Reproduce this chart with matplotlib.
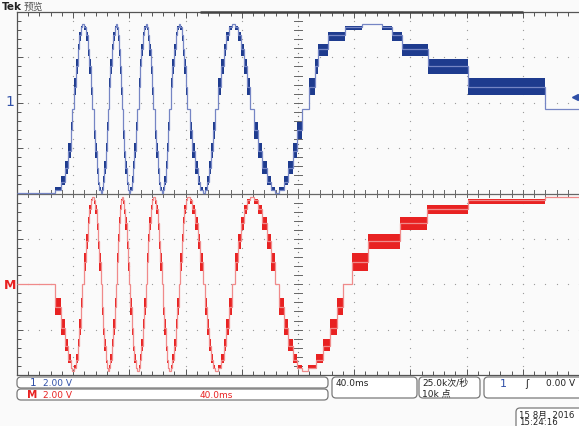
import numpy as np
import matplotlib.pyplot as plt
from matplotlib.patches import FancyBboxPatch

plt.rcParams['font.family'] = ['DejaVu Sans', 'Noto Sans CJK SC']

# 时基 40 ms/div, 10 div -> 0..400 ms
# moments (ms) where the encoder moves on to the next 15 degree step
step_t = [
    27.0, 31.3, 34.2, 36.3, 38.1, 39.5,
    40.9, 42.0, 43.2, 44.3, 45.6, 46.6,
    47.8, 49.0, 50.2, 51.4, 52.5, 53.7,
    54.8, 55.7, 56.7, 57.7, 58.6, 59.6,
    60.5, 61.4, 62.1, 63.0, 63.8, 64.6,
    65.6, 66.5, 67.5, 68.5, 69.4, 70.3,
    71.2, 71.9, 72.6, 73.3, 74.0, 74.7,
    75.6, 76.4, 77.2, 78.1, 78.9, 79.7,
    80.6, 81.6, 82.6, 83.5, 84.5, 85.4,
    86.5, 87.5, 88.6, 89.7, 90.7, 91.8,
    92.7, 93.5, 94.3, 95.2, 95.9, 96.8,
    97.9, 98.9, 100.0, 101.1, 102.1, 103.2,
    104.1, 104.8, 105.7, 106.5, 107.3, 108.2,
    109.4, 110.5, 111.7, 113.0, 114.1, 115.3,
    116.2, 117.2, 118.1, 119.1, 120.1, 121.0,
    122.9, 124.8, 126.7, 128.6, 130.5, 132.4,
    133.8, 135.2, 136.7, 138.1, 139.5, 140.9,
    142.9, 145.0, 147.0, 149.0, 151.0, 153.0,
    155.2, 157.3, 159.4, 161.6, 163.7, 165.8,
    168.8, 171.7, 174.7, 177.7, 180.6, 183.6,
    186.8, 190.0, 193.2, 196.4, 199.6, 202.8,
]
# the slow last quarter turn, read separately for each trace
ch1_tail_t = [207.8, 212.1, 214.2, 221.4, 233.5, 245.6, 259.8, 266.9, 274.0, 292.5, 321.0, 375.8]
m_tail_t = [207.1, 212.8, 217.8, 222.8, 227.8, 232.0, 238.4, 249.8, 272.6, 291.8, 321.0, 375.8]

# levels (V) for one electrical cycle, 24 steps of 15 degrees
ch1_levels = [-3.98, -3.86, -3.48, -2.89, -2.12, -1.22, -0.26, 0.71, 1.61, 2.37, 2.97, 3.34,
              3.47, 3.34, 2.97, 2.37, 1.61, 0.71, -0.26, -1.22, -2.12, -2.89, -3.48, -3.86]
m_levels = [0.0, -0.99, -1.92, -2.71, -3.32, -3.70, -3.83, -3.70, -3.32, -2.71, -1.92, -0.99,
            0.0, 0.99, 1.92, 2.71, 3.32, 3.70, 3.83, 3.70, 3.32, 2.71, 1.92, 0.99]

volts_per_div = 2.0
ch1_pos = 2.0   # div
m_pos = -2.0

BLUE_LINE = '#7585c4'
BLUE_DARK = '#1e3b8e'
RED_LINE = '#f08a8a'
RED_DARK = '#e82222'
GRID = '#9a9a9a'
BG = '#fafafa'

fig = plt.figure(figsize=(5.79, 4.27), dpi=100, facecolor=BG)
ax = fig.add_axes([17 / 579, 51 / 427, 562 / 579, 363 / 427])
ax.set_facecolor(BG)
ax.set_xlim(0, 400)
ax.set_ylim(-4, 4)

# graticule
for gx in np.arange(40, 400, 40):
    if gx == 200:
        continue
    ax.plot(np.full(41, gx), np.linspace(-4, 4, 41), ls='none', marker='o', ms=0.9,
            color=GRID, mec='none')
for gy in np.arange(-3, 4, 1):
    if gy == 0:
        continue
    ax.plot(np.arange(0, 401, 8), np.full(51, gy), ls='none', marker='o', ms=0.9,
            color=GRID, mec='none')
ax.axhline(0, color='#666666', lw=0.9)
ax.plot(np.full(81, 200), np.linspace(-4, 4, 81), ls='none', marker='o', ms=0.9,
        color='#777777', mec='none')
for yy in np.arange(-4, 4.01, 0.2):
    ax.plot([197.5, 202.5], [yy, yy], color='#666666', lw=0.7)
for xx in np.arange(0, 401, 8):
    ax.plot([xx, xx], [-0.08, 0.08], color='#666666', lw=0.7)

ax.spines['right'].set_visible(False)
for s in ['left', 'top', 'bottom']:
    ax.spines[s].set_color('#555555')
    ax.spines[s].set_linewidth(0.9)
ax.set_xticks(np.arange(0, 401, 40))
ax.set_xticks(np.arange(0, 401, 8), minor=True)
ax.set_yticks(np.arange(-4, 5, 1))
ax.set_yticks(np.arange(-4, 4.01, 0.2), minor=True)
ax.tick_params(which='both', direction='in', top=True, bottom=True, left=True, right=False,
               labelbottom=False, labelleft=False, color='#555555', width=0.7)
ax.tick_params(which='major', length=4)
ax.tick_params(which='minor', length=3)


def draw_trace(trans_t, levels, pos, line_c, dark_c):
    edges = [0.0] + trans_t + [400.0]
    n = len(edges) - 1
    vals = [levels[k % 24] / volts_per_div + pos for k in range(n)]
    for k in range(1, n):
        if k % 6 == 0:
            continue
        lvl = vals[k]
        prev = levels[(k - 1) % 24] / volts_per_div + pos
        nxt = levels[(k + 1) % 24] / volts_per_div + pos
        a = lvl + 0.4 * (prev - lvl)
        b = lvl + 0.4 * (nxt - lvl)
        lo, hi = min(a, b, lvl), max(a, b, lvl)
        ax.bar(edges[k], hi - lo, width=edges[k + 1] - edges[k], bottom=lo, align='edge',
               color=dark_c, lw=0, zorder=3)
    ax.stairs(vals, edges, baseline=None, color=line_c, lw=0.9, zorder=4)


draw_trace(step_t + ch1_tail_t, ch1_levels, ch1_pos, BLUE_LINE, BLUE_DARK)
draw_trace(step_t + m_tail_t, m_levels, m_pos, RED_LINE, RED_DARK)

# overlay in pixel coordinates for the screen annotations
ov = fig.add_axes([0, 0, 1, 1])
ov.set_xlim(0, 579)
ov.set_ylim(427, 0)
ov.axis('off')
ov.patch.set_alpha(0)

ov.plot([200, 523], [13.3, 13.3], color='#444444', lw=1.8, solid_capstyle='butt')
ov.text(2, 7, 'Tek', fontsize=7.5, fontweight='bold', color='#222222', va='center')
ov.text(24, 7, '预览', fontsize=7, color='#555555', va='center',
        family=['Noto Sans CJK SC', 'DejaVu Sans'])
ov.text(5, 102, '1', fontsize=10, color='#3050a8', va='center')
ov.text(4, 286, 'M', fontsize=9, fontweight='bold', color=RED_DARK, va='center')
ov.plot(575, 98, marker='<', ms=4, color='#3050a8')
ov.plot([575, 579], [98, 98], color='#3050a8', lw=1.2)


def box(x0, y0, x1, y1):
    p = FancyBboxPatch((x0, y0), x1 - x0, y1 - y0,
                       boxstyle='round,pad=0,rounding_size=4',
                       fc='white', ec='#7a7a7a', lw=0.9, mutation_aspect=1)
    ov.add_patch(p)


cjk = ['DejaVu Sans', 'Noto Sans CJK SC']
box(17, 378, 328, 389)
ov.text(30, 383.5, '1', fontsize=7.5, color='#3050a8', va='center')
ov.text(43, 383.5, '2.00 V', fontsize=6.5, color='#3050a8', va='center')
box(17, 390, 328, 401)
ov.text(27, 395.5, 'M', fontsize=7.5, fontweight='bold', color=RED_DARK, va='center')
ov.text(43, 395.5, '2.00 V', fontsize=6.5, color=RED_DARK, va='center')
ov.text(200, 395.5, '40.0ms', fontsize=6.5, color=RED_DARK, va='center')

box(332, 378, 417, 399)
ov.text(336, 384, '40.0ms', fontsize=6.5, color='#222222', va='center')
box(419, 378, 480, 399)
ov.text(422, 384, '25.0k次/秒', fontsize=6.5, color='#222222', va='center', family=cjk)
ov.text(422, 394, '10k 点', fontsize=6.5, color='#222222', va='center', family=cjk)
box(484, 378, 585, 399)
ov.text(500, 384, '1', fontsize=8, color='#3050a8', va='center')
ov.text(525, 384, 'ʃ', fontsize=7, color='#222222', va='center')
ov.text(546, 384, '0.00 V', fontsize=6.5, color='#222222', va='center')
box(516, 409, 585, 435)
ov.text(519, 415, '15 8月  2016', fontsize=6.2, color='#222222', va='center', family=cjk)
ov.text(519, 422.5, '15:24:16', fontsize=6.2, color='#222222', va='center')

fig.savefig('out.png', dpi=100, facecolor=BG)
